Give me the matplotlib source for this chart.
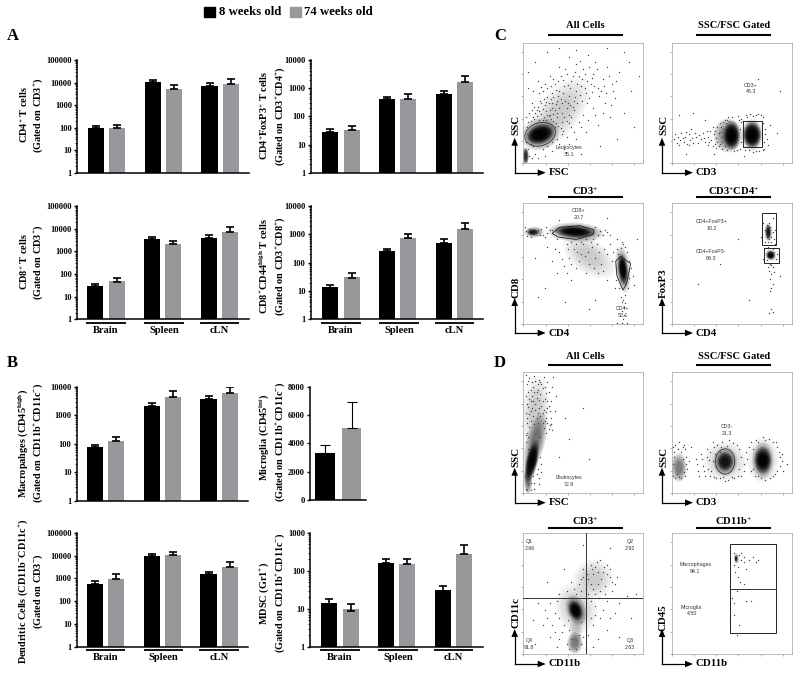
import matplotlib
matplotlib.use("Agg")
import numpy as np
import matplotlib.pyplot as plt
from matplotlib.patches import Ellipse, Polygon, Rectangle
from matplotlib.ticker import LogLocator, NullFormatter

plt.rcParams["font.family"] = ["Liberation Serif", "DejaVu Serif"]
plt.rcParams["font.weight"] = "bold"
plt.rcParams["mathtext.fontset"] = "custom"
plt.rcParams["mathtext.rm"] = "Liberation Serif:bold"
plt.rcParams["mathtext.default"] = "rm"

BLACK = "#000000"
GRAY = "#98989c"

tissues = ["Brain", "Spleen", "cLN"]

# bar heights and top of the error whisker, 8 weeks then 74 weeks
a1_young, a1_young_top = [93, 10200, 7000], [122, 12500, 9200]
a1_old, a1_old_top = [93, 5000, 8300], [135, 7500, 14300]
a2_young, a2_young_top = [27, 412, 604], [36.5, 486, 772]
a2_old, a2_old_top = [32, 424, 1610], [44, 604, 2780]
a3_young, a3_young_top = [28.6, 3390, 3890], [37, 4150, 5430]
a3_old, a3_old_top = [47, 2100, 6900], [64, 2960, 11800]
a4_young, a4_young_top = [13, 265, 493], [16.8, 312, 704]
a4_old, a4_old_top = [29.6, 720, 1590], [43, 1030, 2570]
b1_young, b1_young_top = [75, 2100, 3700], [93, 2690, 4700]
b1_old, b1_old_top = [126, 4470, 5860], [178, 6900, 9800]
b3_young, b3_young_top = [562, 9660, 1500], [740, 12300, 1920]
b3_old, b3_old_top = [934, 11000, 3170], [1500, 15000, 5100]
b4_young, b4_young_top = [13.5, 161, 30], [17.9, 200, 40]
b4_old, b4_old_top = [8.8, 151, 282], [13.5, 210, 470]
microglia = [3350, 5050]
microglia_top = [3900, 6900]

# flow plots: sparse events, percent of axis width/height
c1_dots = [(4,12),(6,16),(3,30),(2,38),(5,42),(8,38),(10,42),(12,47),(7,50),(14,52),(18,48),(22,44),(25,41),(28,38),(20,55),(16,60),(24,58),(28,52),(32,50),(36,46),(30,60),(26,66),(34,64),(38,56),(42,52),(44,60),(40,68),(36,74),(46,72),(48,64),(52,58),(56,66),(50,78),(44,82),(38,88),(30,80),(22,72),(12,68),(8,60),(58,74),(62,62),(66,70),(60,84),(54,90),(70,80),(74,66),(80,76),(84,92),(90,60),(68,50),(58,46),(50,40),(46,34),(40,30),(36,22),(44,20),(52,26),(62,32),(72,38),(34,12),(24,10),(18,6),(12,4),(48,8),(64,14),(78,20),(92,30),(20,92),(10,84),(4,76),(4,62),(70,96),(30,96),(44,94),(88,84),(96,72),(76,54),(84,42),(16,36),(32,34),(26,30),(38,40),(42,44),(20,40),(24,50),
           (9,37),(11,39),(13,36),(15,41),(17,38),(19,36),(21,39),(23,37),(25,35),(27,33),(29,31),(31,29),(33,27),(6,35),(4,34),(3,24),(2,18),(7,44),(9,47),(11,44),(13,43),(16,45),(19,43),(22,40),(24,46),(26,44),(28,42),(30,46),(32,42),(34,38),(36,35),(38,33),(40,38),(15,50),(17,53),(19,51),(21,50),(23,53),(25,55),(27,49),(29,56),(31,53),(33,58),(35,52),(37,50),(39,48),(41,47),(43,55),(45,50),(47,57),(49,52),(51,62),(53,50),(55,54),(57,59),(13,58),(15,63),(18,66),(20,62),(23,64),(25,70),(27,61),(29,68),(31,72),(33,69),(35,78),(37,65),(39,62),(41,72),(43,76),(45,66),(47,85),(49,70),(51,74),(53,68),(55,80),(57,71),(59,64),(61,78),(63,56),(65,60),(67,64),(69,58),(71,72),(73,48),(75,60),(77,68),(32,24),(28,20),(24,18),(20,14),(16,12),(10,8),(8,14),(7,4),(5,6),(30,16),(38,16),(42,26),(48,30),(54,36),(60,40),(66,42)]
c2_dots = [(2,20),(4,17),(5,22),(7,19),(8,25),(10,18),(11,22),(13,16),(14,24),(15,19),(17,21),(16,28),(20,22),(22,17),(24,20),(26,25),(28,18),(30,22),(30,15),(32,27),(33,19),(35,24),(36,16),(37,21),(38,30),(39,14),(41,26),(42,18),(40,33),(46,11),(52,10),(58,37),(55,39),(47,38),(62,40),(70,40),(76,38),(78,28),(79,20),(80,15),(82,32),(88,25),(77,12),(68,9),(6,40),(18,42),(28,36),(90,60),(60,6),(35,8),(72,70),(12,8),
           (3,24),(6,15),(9,21),(12,26),(14,15),(18,17),(19,25),(23,23),(27,21),(29,27),(31,18),(34,30),(34,14),(36,27),(37,13),(38,18),(39,25),(40,16),(41,30),(42,12),(43,34),(44,36),(42,22),(43,28),(44,14),(45,33),(54,11),(57,12),(58,18),(57,28),(59,35),(63,38),(65,41),(68,39),(72,41),(74,40),(76,33),(77,18),(78,24),(76,11),(73,10),(70,10),(64,11),(61,11),(58,34),(56,36),(50,38),(48,35),(46,36)]
c3_dots = [(2,77),(16,74),(20,75),(22,78),(3,73),(15,79),(60,80),(64,77),(68,78),(72,74),(58,70),(50,66),(54,60),(48,58),(42,62),(38,55),(60,55),(65,50),(70,58),(74,52),(78,62),(34,48),(44,46),(52,42),(30,60),(28,42),(62,42),(70,36),(36,66),(46,72),(40,36),(24,52),(82,68),(85,64),(78,70),(86,60),(88,52),(80,30),(85,24),(82,18),(84,14),(83,4),(82,1),(86,1),(78,1),(18,30),(12,22),(35,18),(60,20),(92,32),(10,55),(20,64),(55,12),(95,70),(70,88),(30,86),
           (62,74),(66,74),(70,76),(56,68),(52,70),(48,68),(44,66),(40,68),(37,62),(45,60),(51,56),(57,64),(61,66),(63,60),(67,62),(72,66),(75,60),(46,52),(40,50),(55,50),(59,46),(66,44),(36,42),(32,54),(26,62),(28,70),(24,78),(18,72),(14,74),(5,79),(1,80),(6,72),(10,75),(12,78),(19,80),(81,63),(83,66),(79,58),(90,46),(91,40),(77,36),(76,30),(87,30),(88,38),(81,22),(83,20),(85,17),(82,11),(84,7)]
c4_dots = [(80,92),(84,88),(76,84),(86,78),(80,68),(86,66),(78,63),(84,62),(82,50),(84,47),(81,44),(83,41),(82,37),(84,33),(83,30),(82,27),(83,12),(84,10),(81,9),(76,54),(88,58),(74,72),(64,20),(40,50),(22,33),(90,40),(55,70),
           (79,82),(81,84),(78,78),(82,80),(84,76),(79,72),(83,72),(81,70),(85,70),(78,68),(83,68),(80,64),(82,65),(85,60),(79,53),(87,54),(83,49),(80,47),(85,43)]
d1_dots = [(2,98),(5,95),(9,97),(13,94),(17,96),(20,92),(3,90),(8,88),(12,90),(16,87),(21,84),(4,84),(7,80),(14,82),(18,78),(23,76),(3,74),(10,74),(15,72),(20,70),(6,68),(12,66),(22,68),(19,62),(3,62),(24,88),(27,80),(26,68),(16,58),(22,56),(5,55),(24,52),(14,46),(19,50),(2,48),(4,36),(14,30),(12,20),(13,12),(9,8),(6,2),(2,3),(4,7),(30,30),(38,45),(50,70),(35,62),(55,28),(29,15),(3,50),(6,76),(11,84),(14,92),(25,96),
           (4,93),(7,92),(10,93),(15,90),(18,88),(6,85),(9,84),(12,85),(19,83),(2,80),(5,78),(11,79),(13,77),(16,76),(20,76),(8,76),(4,71),(7,70),(10,69),(13,70),(17,69),(19,67),(21,72),(2,66),(5,65),(8,64),(11,62),(14,64),(16,66),(18,60),(20,58),(23,62),(3,58),(6,60),(9,57),(12,58),(21,53),(17,54),(23,57),(4,46),(2,42),(3,28),(2,22),(11,16),(8,14),(1,14),(6,8),(3,2),(9,3),(15,24),(15,17),(13,7)]
d2_dots = [(1,38),(3,40),(6,42),(9,38),(11,36),(12,30),(2,30),(14,26),(1,14),(4,16),(8,12),(11,14),(13,20),(20,28),(22,18),(24,32),(26,22),(28,14),(29,36),(31,27),(33,18),(35,38),(37,12),(34,42),(42,42),(48,44),(54,40),(58,30),(56,20),(60,24),(62,34),(58,14),(52,12),(44,10),(66,18),(64,38),(66,42),(70,44),(78,44),(84,42),(88,38),(90,30),(92,26),(88,18),(84,14),(72,14),(70,26),(96,24),(16,38),(40,34),(93,18),
           (2,34),(5,36),(8,34),(10,40),(1,24),(3,12),(6,13),(10,17),(12,24),(9,28),(21,24),(23,14),(25,28),(27,18),(29,30),(30,20),(32,34),(34,26),(36,32),(37,22),(32,14),(35,13),(38,40),(40,12),(43,13),(47,11),(50,13),(55,14),(41,38),(46,39),(51,41),(56,36),(60,18),(63,28),(68,36),(68,20),(69,14),(74,12),(78,11),(82,12),(86,16),(90,22),(72,42),(76,46),(81,45),(87,42),(89,34),(92,32),(70,32)]
d3_dots = [(60,72),(66,68),(72,64),(58,66),(54,62),(62,58),(68,56),(74,52),(52,54),(48,62),(44,50),(40,60),(36,52),(30,50),(56,74),(64,78),(50,70),(70,74),(60,50),(80,42),(86,48),(90,30),(76,34),(64,30),(58,24),(70,20),(62,12),(80,14),(30,30),(24,24),(18,36),(12,42),(8,28),(22,14),(32,18),(36,8),(28,6),(52,4),(58,6),(50,14),(52,20),(48,26),(38,20),(44,4),(50,90),(34,70),(20,60),(10,8),(72,88),(94,50),
           (62,68),(65,62),(70,66),(74,60),(56,58),(58,54),(64,52),(68,50),(50,64),(46,58),(42,54),(48,52),(53,66),(57,70),(61,76),(67,72),(72,70),(76,58),(78,64),(63,46),(70,44),(60,40),(66,36),(72,30),(56,30),(60,32),(26,34),(22,42),(28,44),(34,46),(20,30),(16,24),(26,18),(30,12),(34,24),(37,28),(52,10),(54,16),(40,12),(48,8),(46,16),(38,4),(56,44),(54,50)]
d4_dots = [(52,84),(56,82),(58,78),(60,80),(64,78),(68,80),(70,76),(52,74),(55,72),(53,68),(55,64),(57,60),(60,58),(62,70),(54,52),(50,46),(52,42),(62,44),(66,44),(54,16),(56,24),(52,32),(60,76),(72,78),(58,84)]

# soft density clouds: centre x, centre y, width, height, tilt, density level
c1_clouds = [(30,42,70,34,52,0),(14,24,32,26,18,1),(14,24,24,16,18,2),(14,24,20,12,18,2),(2,6,5,14,0,2)]
c2_clouds = [(47,23,24,28,0,1),(50,23,14,24,0,2),(50,23,11,18,0,2),(67,23.5,18,26,0,1),(67,23.5,15,22,0,2),(67,23.5,13,17,0,2)]
c3_clouds = [(9,76,16,9,0,1),(8,76,9,5,0,2),(44,76,46,16,-3,1),(43,76.5,34,10,-3,2),(43,76.5,24,6,-3,2),(83,45,12,38,6,1),(83,45,8,26,6,2),(83,46,5,18,6,2),(55,56,50,28,-35,0)]
c4_clouds = [(80.5,76,7,15,0,1),(80.5,76,4,12,0,2),(82.5,57,9,10,40,1),(82.5,57,7,7,40,2),(82.5,57,5,5,40,2)]
d1_clouds = [(10,68,22,58,-5,0),(10,42,16,50,-14,1),(7,26,10,36,-12,2),(7,26,8,28,-12,2),(4,10,7,22,0,1)]
d2_clouds = [(6,21,13,24,0,1),(44.5,26,36,34,0,0),(44.5,26,20,24,0,1),(44.5,26,13,15,0,2),(76,27,26,38,0,0),(76,27,18,30,0,1),(76,27,14,22,0,2),(76,27,11,14,0,2)]
d3_clouds = [(44,38,34,42,25,0),(58,62,34,32,40,0),(44,36,16,26,20,1),(43.5,36,11,17,20,2),(43.5,36,8,12,20,2),(43,9,13,18,0,1),(44,20,12,22,0,0)]
d4_clouds = [(54,79,4,9,0,1),(53.5,79,2,5,0,2)]

fig = plt.figure(figsize=(8, 6.76), dpi=100)


def new_axes(left, top, right, bottom):
    return fig.add_axes([left / 800, 1 - bottom / 676, (right - left) / 800, (bottom - top) / 676])


def bar_panel(left, top, right, bottom, centre, young, young_top, old, old_top, decades):
    ax = new_axes(left, top, right, bottom)
    span = 56.8
    pos = np.arange(3)
    ax.set_xlim((left - centre) / span, (right - centre) / span)
    ax.set_yscale("log")
    ax.set_ylim(1, 10 ** decades)
    y0 = np.array(young)
    y1 = np.array(old)
    ax.bar(pos - 0.186, y0, 0.283, bottom=1, color=BLACK)
    ax.bar(pos + 0.186, y1, 0.283, bottom=1, color=GRAY)
    ax.errorbar(pos - 0.186, y0, yerr=[0 * y0, np.array(young_top) - y0], fmt="none", ecolor=BLACK, elinewidth=1.2, capsize=2.9, capthick=1.2)
    ax.errorbar(pos + 0.186, y1, yerr=[0 * y1, np.array(old_top) - y1], fmt="none", ecolor=BLACK, elinewidth=1.2, capsize=2.9, capthick=1.2)
    ticks = [10 ** i for i in range(decades + 1)]
    ax.set_yticks(ticks)
    ax.set_yticklabels([str(t) for t in ticks], fontsize=6)
    ax.yaxis.set_minor_locator(LogLocator(base=10, subs=np.arange(2, 10), numticks=20))
    ax.yaxis.set_minor_formatter(NullFormatter())
    style_bar_axes(ax)
    return ax


def style_bar_axes(ax):
    ax.spines[["top", "right"]].set_visible(False)
    ax.spines[["left", "bottom"]].set_linewidth(1.1)
    ax.set_xticks([])
    ax.tick_params(axis="y", which="major", length=2.2, width=1, pad=1.5)
    ax.tick_params(axis="y", which="minor", length=1.2, width=0.5)
    ax.set_facecolor("none")


def tissue_labels(ax):
    for i, name in enumerate(tissues):
        half = 0.35
        shift = [0, 0.02, 0][i]
        ax.plot([i - half + shift, i + half + shift], [-0.032, -0.032], color=BLACK, lw=1.3,
                transform=ax.get_xaxis_transform(), clip_on=False, solid_capstyle="butt")
        ax.text(i + shift, -0.095, name, ha="center", va="center", fontsize=7.6,
                transform=ax.get_xaxis_transform())


panel_a1 = bar_panel(77, 60, 249, 172.7, 106.5, a1_young, a1_young_top, a1_old, a1_old_top, 5)
panel_a2 = bar_panel(310.7, 60, 483, 172.7, 341, a2_young, a2_young_top, a2_old, a2_old_top, 4)
panel_a3 = bar_panel(77, 206, 249, 319.5, 106, a3_young, a3_young_top, a3_old, a3_old_top, 5)
panel_a4 = bar_panel(310.7, 206, 483, 319.5, 341, a4_young, a4_young_top, a4_old, a4_old_top, 4)
panel_b1 = bar_panel(76.7, 386.7, 248, 501, 105.5, b1_young, b1_young_top, b1_old, b1_old_top, 4)
panel_b3 = bar_panel(76.7, 533, 248, 646.7, 105.5, b3_young, b3_young_top, b3_old, b3_old_top, 5)
panel_b4 = bar_panel(310, 533, 483, 646.7, 340, b4_young, b4_young_top, b4_old, b4_old_top, 3)
tissue_labels(panel_a3)
tissue_labels(panel_a4)
tissue_labels(panel_b3)
tissue_labels(panel_b4)

# microglia is the only linear panel
panel_b2 = new_axes(310, 386.7, 366, 500)
panel_b2.set_xlim(-0.56, 1.53)
panel_b2.set_ylim(0, 8000)
panel_b2.bar([0, 1], microglia, 0.72, color=[BLACK, GRAY])
panel_b2.errorbar([0, 1], microglia, yerr=[[0, 0], np.array(microglia_top) - np.array(microglia)],
                  fmt="none", ecolor=BLACK, elinewidth=0.8, capsize=3.4, capthick=0.8)
panel_b2.set_yticks([0, 2000, 4000, 6000, 8000])
panel_b2.set_yticklabels(["0", "2000", "4000", "6000", "8000"], fontsize=6)
style_bar_axes(panel_b2)

cloud_alpha = {0: 0.035, 1: 0.11, 2: 0.24}


def flow_panel(left, top, dots, clouds):
    ax = new_axes(left, top, left + 120, top + 120.5)
    ax.set_xlim(0, 100)
    ax.set_ylim(0, 100)
    for x, y, w, h, tilt, level in clouds:
        # nested ellipses so the cloud edge fades out
        for scale in [1.0, 0.88, 0.76, 0.64, 0.52, 0.4]:
            ax.add_patch(Ellipse((x, y), w * scale, h * scale, angle=tilt, lw=0, zorder=1,
                                 color=BLACK, alpha=cloud_alpha[level]))
    ax.scatter([d[0] for d in dots], [d[1] for d in dots], s=1.0, color="#444444", lw=0, zorder=2)
    for side in ax.spines.values():
        side.set_linewidth(0.5)
        side.set_color("#a0a0a0")
    ax.set_xticks([0, 18.5, 37, 55.5, 74, 92.5])
    ax.set_yticks([0, 18.5, 37, 55.5, 74, 92.5])
    ax.set_xticklabels([])
    ax.set_yticklabels([])
    ax.tick_params(length=1.5, width=0.4, color="#777777")
    return ax


def gate_label(ax, x, y, text):
    ax.text(x, y, text, ha="center", va="center", fontsize=3.8, color="#333333", family="Liberation Sans",
            weight="normal", linespacing=1.45, zorder=5)


def gate_ellipse(ax, x, y, w, h, tilt=0):
    ax.add_patch(Ellipse((x, y), w, h, angle=tilt, fill=False, edgecolor="#222222", lw=0.5, zorder=4))


def gate_box(ax, x0, y0, x1, y1):
    ax.add_patch(Rectangle((x0, y0), x1 - x0, y1 - y0, fill=False, edgecolor="#222222", lw=0.7, zorder=4))


flow_c1 = flow_panel(523.3, 42.7, c1_dots, c1_clouds)
gate_ellipse(flow_c1, 14, 24, 26, 19, 18)
gate_label(flow_c1, 38, 10, "Leukocytes\n35.1")
flow_c2 = flow_panel(671.7, 42.7, c2_dots, c2_clouds)
gate_box(flow_c2, 59.4, 13.3, 75, 35.3)
gate_label(flow_c2, 65.8, 62, "CD3+\n48.3")
flow_c3 = flow_panel(523.3, 203.3, c3_dots, c3_clouds)
flow_c3.add_patch(Polygon([(24, 75), (30, 80), (47, 81.5), (59, 78), (58, 74), (44, 70), (29, 72)], fill=False, edgecolor="#222222", lw=0.6, zorder=4))
flow_c3.add_patch(Polygon([(77, 52), (81, 56), (89.5, 50), (86, 33), (83, 28), (78, 40)], fill=False, edgecolor="#222222", lw=0.6, zorder=4))
gate_label(flow_c3, 46, 91, "CD8+\n20.7")
gate_label(flow_c3, 83, 10, "CD4+\n52.1")
flow_c4 = flow_panel(671.7, 203.3, c4_dots, c4_clouds)
gate_box(flow_c4, 75, 65, 87.2, 91.7)
gate_box(flow_c4, 76.7, 50.8, 89.4, 62.7)
gate_label(flow_c4, 33, 82, "CD4+FoxP3+\n10.2")
gate_label(flow_c4, 32.5, 57, "CD4+FoxP3-\n89.3")

flow_d1 = flow_panel(523.3, 372.3, d1_dots, d1_clouds)
gate_label(flow_d1, 38, 9.5, "Leukocytes\n72.9")
flow_d2 = flow_panel(671.7, 372.3, d2_dots, d2_clouds)
gate_ellipse(flow_d2, 44.5, 26, 16, 21)
gate_label(flow_d2, 46, 52, "CD3-\n21.3")
flow_d3 = flow_panel(523.3, 533.3, d3_dots, d3_clouds)
flow_d3.axvline(52.5, color="#333333", lw=0.7, zorder=4)
flow_d3.axhline(46, color="#333333", lw=0.7, zorder=4)
gate_label(flow_d3, 5, 90.5, "Q1\n2.66")
gate_label(flow_d3, 89, 90.5, "Q2\n2.92")
gate_label(flow_d3, 5, 8, "Q4\n91.8")
gate_label(flow_d3, 89, 8, "Q3\n2.63")
flow_d4 = flow_panel(671.7, 533.3, d4_dots, d4_clouds)
gate_box(flow_d4, 48.3, 17, 86.9, 91)
flow_d4.plot([48.3, 86.9], [54, 54], color="#333333", lw=0.7, zorder=4)
gate_label(flow_d4, 19.7, 71, "Macrophages\n94.1")
gate_label(flow_d4, 16.7, 36, "Microglia\n4.50")

# everything else sits on a full figure overlay in pixel coordinates
ov = fig.add_axes([0, 0, 1, 1], facecolor="none")
ov.set_xlim(0, 800)
ov.set_ylim(676, 0)
ov.axis("off")

ov.add_patch(Rectangle((204, 7), 11, 10, color=BLACK))
ov.add_patch(Rectangle((290, 7), 10.5, 10, color=GRAY))
ov.text(219, 12, "8 weeks old", fontsize=9.2, va="center")
ov.text(304, 12, "74 weeks old", fontsize=9.2, va="center")

for letter, x, y in [("A", 7, 36), ("B", 7, 363), ("C", 494, 36), ("D", 494, 363)]:
    ov.text(x, y, letter, fontsize=12, va="center")

y_titles = [
    (24, 115, "CD4$^{+}$ T cells"), (38, 115, "(Gated on CD3$^{+}$)"),
    (264, 115, "CD4$^{+}$FoxP3$^{+}$ T cells"), (280, 116, "(Gated on CD3$^{+}$CD4$^{+}$)"),
    (24, 262, "CD8$^{+}$ T cells"), (38, 262, "(Gated on CD3$^{+}$)"),
    (264, 266, "CD8$^{+}$CD44$^{high}$ T cells"), (280, 266, "(Gated on CD3$^{+}$CD8$^{+}$)"),
    (23, 443, "Macropahges (CD45$^{high}$)"), (38, 443, "(Gated on CD11b$^{+}$CD11c$^{-}$)"),
    (264, 437, "Microglia (CD45$^{int}$)"), (280, 442, "(Gated on CD11b$^{+}$CD11c$^{-}$)"),
    (23, 591, "Dendritic Cells (CD11b$^{-}$CD11c$^{+}$)"), (38, 591, "(Gated on CD3$^{-}$)"),
    (264, 593, "MDSC (Gr1$^{+}$)"), (280, 593, "(Gated on CD11b$^{+}$CD11c$^{-}$)"),
]
for x, y, text in y_titles:
    ov.text(x, y, text, rotation=90, ha="center", va="center", fontsize=7.4)

flow_titles = [
    (585.2, 26, 34.7, "All Cells"), (733.7, 26, 34.7, "SSC/FSC Gated"),
    (585.2, 191, 197.3, "CD3$^{+}$"), (733.7, 191, 197.3, "CD3$^{+}$CD4$^{+}$"),
    (585.2, 356.7, 365, "All Cells"), (733.7, 356.7, 365, "SSC/FSC Gated"),
    (585.2, 521, 527.7, "CD3$^{+}$"), (733.7, 521, 527.7, "CD11b$^{+}$"),
]
for x, y, bar_y, text in flow_titles:
    ov.text(x, y, text, ha="center", va="center", fontsize=7.6)
    ov.plot([x - 37.6, x + 37.6], [bar_y, bar_y], color=BLACK, lw=1.5, solid_capstyle="butt")

arrow_sets = [
    (514.7, 172.7, "SSC", "FSC", 125), (662, 172.7, "SSC", "CD3", 125),
    (514.7, 333, "CD8", "CD4", 287), (662, 333, "FoxP3", "CD4", 283),
    (514.7, 502.7, "SSC", "FSC", 457), (662, 502.7, "SSC", "CD3", 457),
    (514.7, 664, "CD11c", "CD11b", 613), (662, 664, "CD45", "CD11b", 618),
]
for x, y, vert, horiz, vert_y in arrow_sets:
    ov.plot([x, x], [y, y - 30], color=BLACK, lw=0.9)
    ov.plot([x, x + 24], [y, y], color=BLACK, lw=0.9)
    ov.add_patch(Polygon([(x - 3.3, y - 27), (x + 3.3, y - 27), (x, y - 35)], color=BLACK, lw=0))
    ov.add_patch(Polygon([(x + 23, y - 3.3), (x + 23, y + 3.3), (x + 31, y)], color=BLACK, lw=0))
    ov.text(x + 1.5, vert_y, vert, rotation=90, ha="center", va="center", fontsize=7.8)
    ov.text(x + 34, y, horiz, ha="left", va="center", fontsize=7.8)

fig.savefig("out.png", dpi=100)
